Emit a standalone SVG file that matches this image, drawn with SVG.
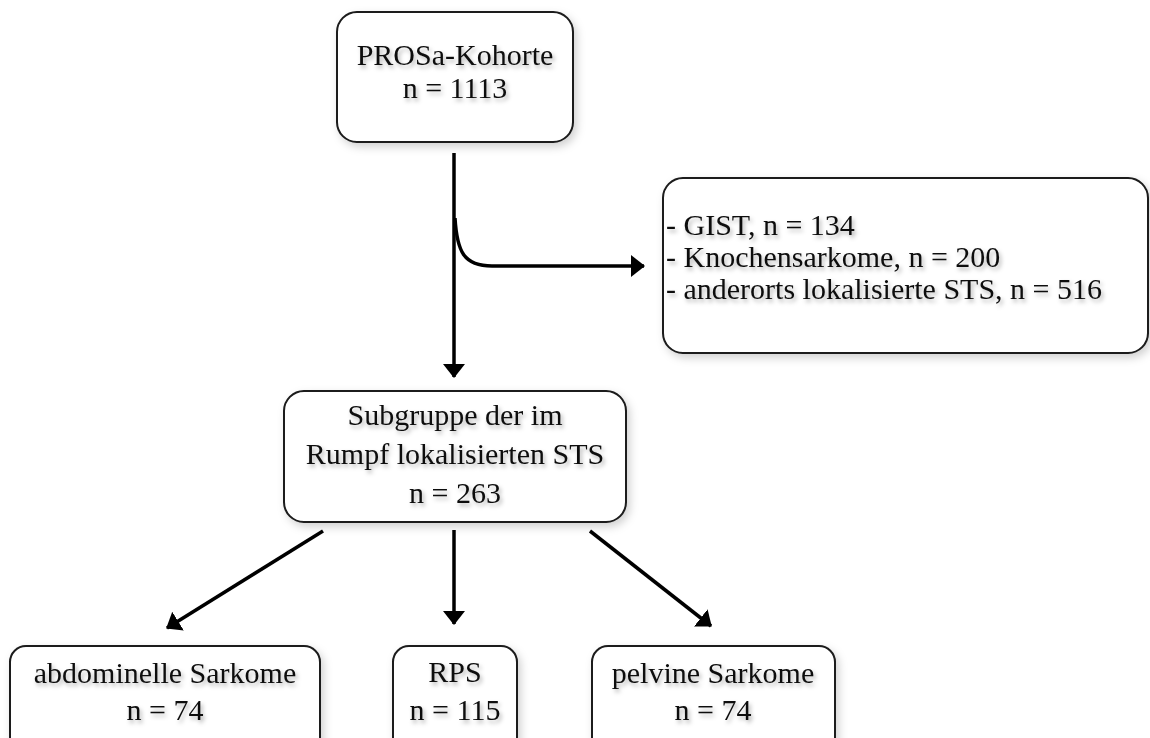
<svg xmlns="http://www.w3.org/2000/svg" width="1150" height="738" viewBox="0 0 1150 738">
<defs>
<filter id="bs" x="-10%" y="-10%" width="130%" height="130%">
<feDropShadow dx="3" dy="4" stdDeviation="4" flood-color="#000" flood-opacity="0.18"/>
</filter>
<filter id="ts" x="-10%" y="-30%" width="130%" height="180%">
<feDropShadow dx="2" dy="3" stdDeviation="2" flood-color="#000" flood-opacity="0.3"/>
</filter>
<marker id="ah" markerUnits="userSpaceOnUse" markerWidth="16" markerHeight="24" refX="13" refY="11" orient="auto">
<path d="M0,0 L14,11 L0,22 Z" fill="#000"/>
</marker>
</defs>
<style>
.box{fill:#fff;stroke:#1a1a1a;stroke-width:2;filter:url(#bs)}
.t{font-family:"Liberation Serif","Times New Roman",serif;font-size:30px;fill:#111;filter:url(#ts)}
.c{text-anchor:middle}
.ln{fill:none;stroke:#000;stroke-width:3.5}
</style>
<rect width="1150" height="738" fill="#fff"/>
<g id="connectors">
<path class="ln" d="M454,153 L454,377" marker-end="url(#ah)"/>
<path class="ln" d="M455,218 C457,252 464,266 492,266 L644,266" marker-end="url(#ah)"/>
<path class="ln" d="M323,531 L167,628" marker-end="url(#ah)"/>
<path class="ln" d="M454,530 L454,624" marker-end="url(#ah)"/>
<path class="ln" d="M590,531 L711,626" marker-end="url(#ah)"/>
</g>
<g id="n1">
<rect class="box" x="337" y="12" width="236" height="130" rx="20"/>
<text class="t c" x="455" y="65">PROSa-Kohorte</text>
<text class="t c" x="455" y="98">n = 1113</text>
</g>
<g id="n2">
<rect class="box" x="663" y="178" width="485" height="175" rx="20"/>
<text class="t" x="666" y="235">- GIST, n = 134</text>
<text class="t" x="666" y="267">- Knochensarkome, n = 200</text>
<text class="t" x="666" y="299">- anderorts lokalisierte STS, n = 516</text>
</g>
<g id="n3">
<rect class="box" x="284" y="391" width="342" height="131" rx="20"/>
<text class="t c" x="455" y="425">Subgruppe der im</text>
<text class="t c" x="455" y="464">Rumpf lokalisierten STS</text>
<text class="t c" x="455" y="503">n = 263</text>
</g>
<g id="n4">
<rect class="box" x="10" y="646" width="310" height="110" rx="16"/>
<text class="t c" x="165" y="683">abdominelle Sarkome</text>
<text class="t c" x="165" y="720">n = 74</text>
</g>
<g id="n5">
<rect class="box" x="393" y="646" width="124" height="110" rx="16"/>
<text class="t c" x="455" y="682">RPS</text>
<text class="t c" x="455" y="720">n = 115</text>
</g>
<g id="n6">
<rect class="box" x="592" y="646" width="243" height="110" rx="16"/>
<text class="t c" x="713" y="683">pelvine Sarkome</text>
<text class="t c" x="713" y="720">n = 74</text>
</g>
</svg>
